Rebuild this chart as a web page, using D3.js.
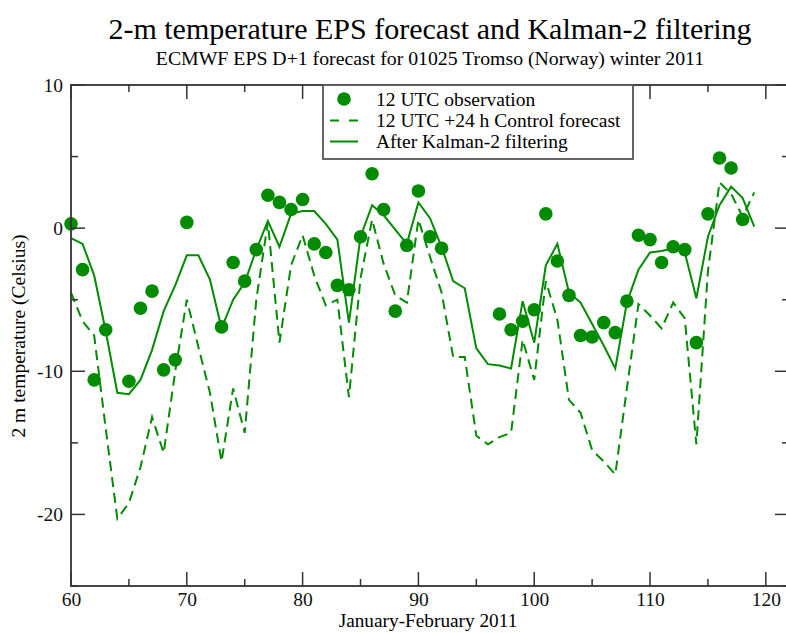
<!DOCTYPE html>
<html>
<head>
<meta charset="utf-8">
<script src="https://cdn.jsdelivr.net/npm/d3@7"></script>
<style>
body { margin: 0; background: #fff; }
text { font-family: "Liberation Serif", "DejaVu Serif", serif; }
</style>
</head>
<body>
<svg width="786" height="633"></svg>
<script>
// days 60..119 (Jan-Feb 2011)
var days = d3.range(60, 120);

// 12 UTC observations (null = missing)
var obs = [0.3, -2.9, -10.6, -7.1, null, -10.7, -5.6, -4.4, -9.9, -9.2,
           0.4, null, null, -6.9, -2.4, -3.7, -1.5, 2.3, 1.8, 1.3,
           2.0, -1.1, -1.7, -4.0, -4.3, -0.6, 3.8, 1.3, -5.8, -1.2,
           2.6, -0.6, -1.4, null, null, null, null, -6.0, -7.1, -6.5,
           -5.7, 1.0, -2.3, -4.7, -7.5, -7.6, -6.6, -7.3, -5.1, -0.5,
           -0.8, -2.4, -1.3, -1.5, -8.0, 1.0, 4.9, 4.2, 0.6, null];

// 12 UTC +24h control forecast
var control = [-4.5, -6.5, -7.5, -14.0, -20.3, -19.2, -16.7, -13.2, -15.7, -10.0,
               -5.0, -8.3, -11.5, -16.3, -11.2, -14.3, -5.0, 0.4, -8.0, -2.6,
               -0.5, -3.3, -5.4, -5.0, -11.8, -3.5, 0.6, -2.5, -4.7, -5.2,
               0.6, -2.0, -4.5, -9.0, -9.0, -14.5, -15.1, -14.6, -14.3, -7.8,
               -10.6, -3.7, -6.4, -12.0, -12.9, -15.5, -16.3, -17.2, -11.2, -5.3,
               -6.1, -7.0, -5.2, -6.3, -15.1, -3.0, 3.2, 2.4, 0.8, 2.5];

// after Kalman-2 filtering
var kalman = [-0.7, -1.1, -3.3, -7.2, -11.5, -11.6, -10.6, -8.5, -5.8, -4.0,
              -1.9, -1.9, -3.6, -7.0, -5.0, -3.8, -1.5, 0.5, -1.3, 1.0,
              1.2, 1.2, 0.3, -0.8, -6.6, -0.6, 1.6, 0.9, -0.1, -1.1,
              1.8, 0.7, -1.3, -3.7, -4.2, -8.4, -9.5, -9.6, -9.8, -5.1,
              -8.0, -2.6, -1.1, -4.5, -5.2, -6.7, -8.2, -9.8, -5.2, -2.9,
              -1.7, -1.6, -1.4, -1.7, -4.9, -0.6, 1.6, 2.9, 2.1, 0.1];

var xTicks = [60, 70, 80, 90, 100, 110, 120];
var yTicks = [10, 0, -10, -20];
var legendLabels = ["12 UTC observation", "12 UTC +24 h Control forecast", "After Kalman-2 filtering"];

var green = "#008b00";
var svg = d3.select("svg");
var pLeft = 71, pRight = 789, pTop = 85, pBottom = 586;

var x = d3.scaleLinear().domain([60, 122]).range([pLeft, pRight]);
var y = d3.scaleLinear().domain([-25, 10]).range([pBottom, pTop]);

svg.append("text")
  .attr("x", 430).attr("y", 39)
  .attr("text-anchor", "middle")
  .attr("font-size", "30px")
  .text("2-m temperature EPS forecast and Kalman-2 filtering");

svg.append("text")
  .attr("x", 430).attr("y", 65)
  .attr("text-anchor", "middle")
  .attr("font-size", "19.8px")
  .text("ECMWF EPS D+1 forecast for 01025 Tromso (Norway) winter 2011");

// lines
var line = d3.line()
  .x(function(d, i) { return x(days[i]); })
  .y(function(d) { return y(d); });

svg.append("path")
  .attr("d", line(control))
  .attr("fill", "none")
  .attr("stroke", green)
  .attr("stroke-width", 2)
  .attr("stroke-dasharray", "10,6");

svg.append("path")
  .attr("d", line(kalman))
  .attr("fill", "none")
  .attr("stroke", green)
  .attr("stroke-width", 2);

var obsPts = days.map(function(d, i) { return { day: d, v: obs[i] }; })
  .filter(function(p) { return p.v !== null; });

svg.selectAll(".obs")
  .data(obsPts)
  .enter().append("circle")
  .attr("class", "obs")
  .attr("r", 6.8)
  .attr("cx", function(p) { return x(p.day); })
  .attr("cy", function(p) { return y(p.v); })
  .style("fill", green);

// frame and axes (ticks inward, on all sides)
var axisColor = "#333";
var gx = svg.append("g").attr("transform", "translate(0," + pBottom + ")")
  .call(d3.axisBottom(x).tickValues(xTicks).tickSize(0).tickPadding(6).tickFormat(function(d) { return String(d); }));
var gy = svg.append("g").attr("transform", "translate(" + pLeft + ",0)")
  .call(d3.axisLeft(y).tickValues(yTicks).tickSize(0).tickPadding(8).tickFormat(function(d) { return String(d); }));
[gx, gy].forEach(function(g) {
  g.select(".domain").remove();
  g.selectAll("text").attr("font-size", "19.5px").attr("fill", "#111")
   .style("font-family", "'Liberation Serif', serif");
});

svg.append("rect")
  .attr("x", pLeft).attr("y", pTop)
  .attr("width", pRight - pLeft).attr("height", pBottom - pTop)
  .attr("fill", "none").attr("stroke", axisColor).attr("stroke-width", 1.8);

var xMinor = d3.range(60, 122, 5);
var yMinor = d3.range(-25, 10.01, 5);
var ticks = svg.append("g").attr("stroke", axisColor).attr("stroke-width", 1.5);
xMinor.forEach(function(v) {
  var len = v % 10 === 0 ? 14 : 7;
  ticks.append("line").attr("x1", x(v)).attr("x2", x(v)).attr("y1", pBottom).attr("y2", pBottom - len);
  ticks.append("line").attr("x1", x(v)).attr("x2", x(v)).attr("y1", pTop).attr("y2", pTop + len);
});
yMinor.forEach(function(v) {
  var len = v % 10 === 0 ? 14 : 7;
  ticks.append("line").attr("x1", pLeft).attr("x2", pLeft + len).attr("y1", y(v)).attr("y2", y(v));
  ticks.append("line").attr("x1", pRight).attr("x2", pRight - len).attr("y1", y(v)).attr("y2", y(v));
});

// axis titles
svg.append("text")
  .attr("x", 428).attr("y", 627)
  .attr("text-anchor", "middle")
  .attr("font-size", "19.3px")
  .text("January-February 2011");

svg.append("text")
  .attr("transform", "translate(25,336) rotate(-90)")
  .attr("text-anchor", "middle")
  .attr("font-size", "19.5px")
  .text("2 m temperature (Celsius)");

// legend
var lg = svg.append("g");
lg.append("rect")
  .attr("x", 323).attr("y", pTop)
  .attr("width", 310).attr("height", 74)
  .attr("fill", "#fff").attr("stroke", "#555").attr("stroke-width", 1.8);
var rowY = [99, 120.5, 141.5];
lg.append("circle").attr("cx", 344).attr("cy", rowY[0]).attr("r", 6.8).style("fill", green);
lg.append("line").attr("x1", 330).attr("x2", 358).attr("y1", rowY[1]).attr("y2", rowY[1])
  .attr("stroke", green).attr("stroke-width", 2).attr("stroke-dasharray", "9,10");
lg.append("line").attr("x1", 330).attr("x2", 358).attr("y1", rowY[2]).attr("y2", rowY[2])
  .attr("stroke", green).attr("stroke-width", 2);
lg.selectAll(".lt")
  .data(legendLabels)
  .enter().append("text")
  .attr("x", 376)
  .attr("y", function(d, i) { return rowY[i] + 6.5; })
  .attr("font-size", "19.5px")
  .text(function(d) { return d; });
</script>
</body>
</html>
